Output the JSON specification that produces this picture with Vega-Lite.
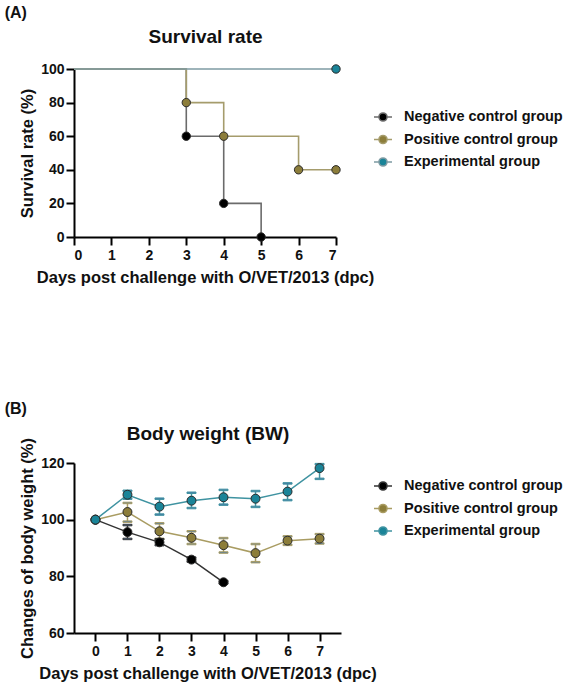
{
  "$schema": "https://vega.github.io/schema/vega-lite/v6.json",
  "padding": {"left": 4, "top": 5, "right": 0, "bottom": 0},
  "background": "white",
  "datasets": {
    "survival": [
      {"group": "Negative control group", "day": 0, "rate": 100, "marker": false},
      {"group": "Negative control group", "day": 3, "rate": 60, "marker": true},
      {"group": "Negative control group", "day": 4, "rate": 20, "marker": true},
      {"group": "Negative control group", "day": 5, "rate": 0, "marker": true},
      {"group": "Positive control group", "day": 0, "rate": 100, "marker": false},
      {"group": "Positive control group", "day": 3, "rate": 80, "marker": true},
      {"group": "Positive control group", "day": 4, "rate": 60, "marker": true},
      {"group": "Positive control group", "day": 6, "rate": 40, "marker": true},
      {"group": "Positive control group", "day": 7, "rate": 40, "marker": true},
      {"group": "Experimental group", "day": 0, "rate": 100, "marker": false},
      {"group": "Experimental group", "day": 7, "rate": 100, "marker": true}
    ],
    "weight": [
      {"group": "Negative control group", "day": 0, "bw": 100, "lo": null, "hi": null},
      {"group": "Negative control group", "day": 1, "bw": 95.6, "lo": 93.2, "hi": 98.1},
      {"group": "Negative control group", "day": 2, "bw": 92.0, "lo": 91.0, "hi": 93.1},
      {"group": "Negative control group", "day": 3, "bw": 85.9, "lo": 85.2, "hi": 86.6},
      {"group": "Negative control group", "day": 4, "bw": 77.9, "lo": 77.5, "hi": 78.3},
      {"group": "Positive control group", "day": 0, "bw": 100, "lo": null, "hi": null},
      {"group": "Positive control group", "day": 1, "bw": 102.7, "lo": 99.3, "hi": 105.9},
      {"group": "Positive control group", "day": 2, "bw": 95.9, "lo": 93.2, "hi": 98.7},
      {"group": "Positive control group", "day": 3, "bw": 93.6, "lo": 91.4, "hi": 95.9},
      {"group": "Positive control group", "day": 4, "bw": 91.0, "lo": 88.4, "hi": 93.5},
      {"group": "Positive control group", "day": 5, "bw": 88.2, "lo": 85.0, "hi": 91.4},
      {"group": "Positive control group", "day": 6, "bw": 92.6, "lo": 91.1, "hi": 94.1},
      {"group": "Positive control group", "day": 7, "bw": 93.3, "lo": 91.6, "hi": 94.9},
      {"group": "Experimental group", "day": 0, "bw": 100, "lo": null, "hi": null},
      {"group": "Experimental group", "day": 1, "bw": 108.8, "lo": 107.4, "hi": 110.2},
      {"group": "Experimental group", "day": 2, "bw": 104.6, "lo": 101.8, "hi": 107.4},
      {"group": "Experimental group", "day": 3, "bw": 106.7, "lo": 104.1, "hi": 109.5},
      {"group": "Experimental group", "day": 4, "bw": 107.9, "lo": 105.3, "hi": 110.5},
      {"group": "Experimental group", "day": 5, "bw": 107.4, "lo": 104.5, "hi": 110.1},
      {"group": "Experimental group", "day": 6, "bw": 109.9, "lo": 106.9, "hi": 112.8},
      {"group": "Experimental group", "day": 7, "bw": 118.2, "lo": 114.4, "hi": 119.6}
    ]
  },
  "vconcat": [
    {
      "title": {"text": "(A)", "anchor": "start", "fontSize": 16, "dx": -15, "offset": 6},
      "width": 262,
      "height": 168,
      "data": {"name": "survival"},
      "resolve": {"axis": {"x": "independent"}},
      "encoding": {
        "y": {"field": "rate", "type": "quantitative", "scale": {"domain": [0, 100], "nice": false},
              "axis": {"values": [0, 20, 40, 60, 80, 100], "title": "Survival rate (%)"}}
      },
      "layer": [
        {
          "mark": {"type": "line", "interpolate": "step-after", "strokeWidth": 1.6},
          "encoding": {
            "x": {"field": "day", "type": "quantitative", "scale": {"domain": [0, 7], "nice": false, "zero": false},
                  "axis": {"values": [0, 1, 2, 3, 4, 5, 6, 7], "title": "Days post challenge with O/VET/2013 (dpc)"}},
            "stroke": {"field": "group", "type": "nominal",
                       "scale": {"domain": ["Negative control group", "Positive control group", "Experimental group"], "range": ["#6b6b6b", "#a59c6c", "#7e9ba3"]},
                       "legend": {"orient": "none", "legendX": 299, "legendY": 38, "labelFontSize": 14.5, "symbolOpacity": 1}}
          }
        },
        {
          "transform": [{"filter": "datum.marker"}],
          "mark": {"type": "circle", "size": 70, "opacity": 1, "strokeWidth": 1, "stroke": "#2a2a2a"},
          "encoding": {
            "x": {"field": "day", "type": "quantitative",
                  "axis": {"orient": "top", "title": "Survival rate", "titleFontSize": 19, "titlePadding": 23, "labels": false, "ticks": false, "domain": false}},
            "fill": {"field": "group", "type": "nominal",
                     "scale": {"domain": ["Negative control group", "Positive control group", "Experimental group"], "range": ["#000000", "#8c7d3a", "#1a8498"]},
                     "legend": {"orient": "none", "legendX": 299, "legendY": 38, "labelFontSize": 14.5, "symbolOpacity": 1}}
          }
        }
      ]
    },
    {
      "title": {"text": "(B)", "anchor": "start", "fontSize": 16, "dx": -15, "offset": 7},
      "width": 267,
      "height": 170,
      "data": {"name": "weight"},
      "resolve": {"axis": {"x": "independent"}},
      "layer": [
        {
          "transform": [{"filter": "isValid(datum.lo)"}],
          "mark": {"type": "rule", "strokeWidth": 1.5, "opacity": 1},
          "encoding": {
            "x": {"field": "day", "type": "quantitative", "scale": {"domain": [-0.67, 7.67], "nice": false, "zero": false},
                  "axis": {"values": [0, 1, 2, 3, 4, 5, 6, 7], "title": "Days post challenge with O/VET/2013 (dpc)"}},
            "y": {"field": "lo", "type": "quantitative", "scale": {"domain": [60, 120], "nice": false, "zero": false},
                  "axis": {"values": [60, 80, 100, 120], "title": "Changes of body weight (%)"}},
            "y2": {"field": "hi"},
            "stroke": {"field": "group", "type": "nominal",
                       "scale": {"domain": ["Negative control group", "Positive control group", "Experimental group"], "range": ["#333333", "#a99c62", "#3f93a1"]},
                       "legend": {"orient": "none", "legendX": 299, "legendY": 13, "labelFontSize": 14.5, "symbolOpacity": 1}}
          }
        },
        {
          "transform": [{"filter": "isValid(datum.lo)"}],
          "mark": {"type": "tick", "orient": "horizontal", "size": 9, "thickness": 1.5, "opacity": 1},
          "encoding": {
            "x": {"field": "day", "type": "quantitative", "axis": null},
            "y": {"field": "lo", "type": "quantitative"},
            "stroke": {"field": "group", "type": "nominal", "legend": {"orient": "none", "legendX": 299, "legendY": 13, "labelFontSize": 14.5, "symbolOpacity": 1}}
          }
        },
        {
          "transform": [{"filter": "isValid(datum.hi)"}],
          "mark": {"type": "tick", "orient": "horizontal", "size": 9, "thickness": 1.5, "opacity": 1},
          "encoding": {
            "x": {"field": "day", "type": "quantitative", "axis": null},
            "y": {"field": "hi", "type": "quantitative"},
            "stroke": {"field": "group", "type": "nominal", "legend": {"orient": "none", "legendX": 299, "legendY": 13, "labelFontSize": 14.5, "symbolOpacity": 1}}
          }
        },
        {
          "mark": {"type": "line", "strokeWidth": 1.5},
          "encoding": {
            "x": {"field": "day", "type": "quantitative", "axis": null},
            "y": {"field": "bw", "type": "quantitative"},
            "stroke": {"field": "group", "type": "nominal", "legend": {"orient": "none", "legendX": 299, "legendY": 13, "labelFontSize": 14.5, "symbolOpacity": 1}}
          }
        },
        {
          "mark": {"type": "circle", "size": 80, "opacity": 1, "strokeWidth": 1, "stroke": "#2a2a2a"},
          "encoding": {
            "x": {"field": "day", "type": "quantitative",
                  "axis": {"orient": "top", "title": "Body weight (BW)", "titleFontSize": 19, "titlePadding": 20, "labels": false, "ticks": false, "domain": false}},
            "y": {"field": "bw", "type": "quantitative"},
            "fill": {"field": "group", "type": "nominal",
                     "scale": {"domain": ["Negative control group", "Positive control group", "Experimental group"], "range": ["#000000", "#8c7d3a", "#1a8498"]},
                     "legend": {"orient": "none", "legendX": 299, "legendY": 13, "labelFontSize": 14.5, "symbolOpacity": 1}}
          }
        }
      ]
    }
  ],
  "resolve": {"scale": {"fill": "independent", "stroke": "independent"}, "legend": {"fill": "independent", "stroke": "independent"}},
  "spacing": 115,
  "config": {
    "font": "Liberation Sans",
    "view": {"stroke": null},
    "title": {"font": "Liberation Sans", "fontWeight": "bold", "color": "#111111"},
    "axis": {
      "grid": false,
      "domainColor": "#000000",
      "domainWidth": 2,
      "tickColor": "#000000",
      "tickWidth": 2,
      "tickSize": 8,
      "labelFont": "Liberation Sans",
      "labelFontWeight": "bold",
      "labelFontSize": 14,
      "labelColor": "#111111",
      "labelPadding": 3,
      "titleFont": "Liberation Sans",
      "titleFontWeight": "bold",
      "titleFontSize": 16.5,
      "titleColor": "#111111",
      "titlePadding": 7
    },
    "axisY": {"titlePadding": 5, "labelPadding": 2},
    "legend": {
      "title": null,
      "symbolType": "M-1,0H-0.45M0.45,0H1M-0.45,0A0.45,0.45 0 1,1 0.45,0A0.45,0.45 0 1,1 -0.45,0Z",
      "symbolSize": 324,
      "symbolStrokeWidth": 1.5,
      "symbolOpacity": 1,
      "labelFont": "Liberation Sans",
      "labelFontWeight": "bold",
      "labelFontSize": 14.5,
      "labelColor": "#111111",
      "labelOffset": 11,
      "rowPadding": 4.5,
      "labelLimit": 300
    }
  }
}
